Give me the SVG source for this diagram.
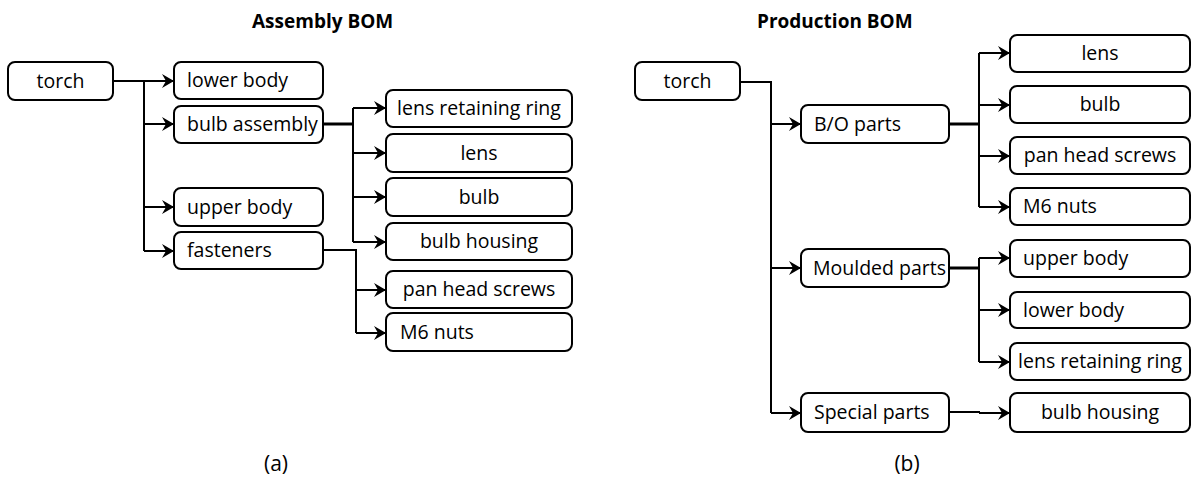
<svg xmlns="http://www.w3.org/2000/svg" width="1200" height="480" viewBox="0 0 1200 480">
<defs>
<marker id="ah" markerUnits="userSpaceOnUse" markerWidth="12" markerHeight="14" refX="12" refY="7" orient="auto">
<path d="M0,0 L12,7 L0,14 L4,7 z" fill="#000"/>
</marker>
<style>
.box{fill:#fff;stroke:#000;stroke-width:2}
.t{font-family:"Open Sans","Liberation Sans",sans-serif;font-size:19.5px;fill:#000}
.c{text-anchor:middle}
.title{font-family:"Open Sans","Liberation Sans",sans-serif;font-size:19px;font-weight:bold;fill:#000}
.lbl{font-family:"Open Sans","Liberation Sans",sans-serif;font-size:21px;fill:#000;text-anchor:middle}
.ln{fill:none;stroke:#000;stroke-width:2}
.thick{fill:none;stroke:#000;stroke-width:3}
.ar{fill:none;stroke:#000;stroke-width:2;marker-end:url(#ah)}
</style>
</defs>
<rect width="1200" height="480" fill="#fff"/>
<text class="title" x="252" y="28">Assembly BOM</text>
<text class="title" x="757" y="28">Production BOM</text>
<text class="lbl" x="276" y="471">(a)</text>
<text class="lbl" x="907" y="471">(b)</text>

<g id="connectors">
<path class="ln" d="M113,81 H144 V251"/>
<path class="ar" d="M144,81 H174"/>
<path class="ar" d="M144,124 H174"/>
<path class="ar" d="M144,207 H174"/>
<path class="ar" d="M144,251 H174"/>
<path class="thick" d="M323,124 H353"/>
<path class="ln" d="M353,108 V242"/>
<path class="ar" d="M353,108 H386"/>
<path class="ar" d="M353,153 H386"/>
<path class="ar" d="M353,197 H386"/>
<path class="ar" d="M353,242 H386"/>
<path class="ln" d="M323,250 H356 V333"/>
<path class="ar" d="M356,290 H386"/>
<path class="ar" d="M356,333 H386"/>

<path class="ln" d="M740,82 H771 V413"/>
<path class="ar" d="M771,124 H801"/>
<path class="ar" d="M771,268 H801"/>
<path class="ar" d="M771,413 H801"/>
<path class="thick" d="M949,124 H979"/>
<path class="ln" d="M979,53 V207"/>
<path class="ar" d="M979,53 H1010"/>
<path class="ar" d="M979,105 H1010"/>
<path class="ar" d="M979,156 H1010"/>
<path class="ar" d="M979,207 H1010"/>
<path class="thick" d="M949,268 H979"/>
<path class="ln" d="M979,258 V362"/>
<path class="ar" d="M979,258 H1010"/>
<path class="ar" d="M979,310 H1010"/>
<path class="ar" d="M979,362 H1010"/>
<path class="ln" d="M949,412 H979 V413"/>
<path class="ar" d="M979,413 H1010"/>
</g>

<g id="a-torch"><rect class="box" x="8" y="62" width="105" height="38" rx="7"/><text class="t c" x="60.5" y="88">torch</text></g>
<g id="a-lower-body"><rect class="box" x="174" y="62" width="149" height="37" rx="7"/><text class="t" x="187" y="87">lower body</text></g>
<g id="a-bulb-assembly"><rect class="box" x="174" y="106" width="149" height="37" rx="7"/><text class="t" x="187" y="131">bulb assembly</text></g>
<g id="a-upper-body"><rect class="box" x="174" y="188" width="149" height="38" rx="7"/><text class="t" x="187" y="214">upper body</text></g>
<g id="a-fasteners"><rect class="box" x="174" y="232" width="149" height="37" rx="7"/><text class="t" x="187" y="257">fasteners</text></g>
<g id="a-lens-retaining-ring"><rect class="box" x="386" y="90" width="186" height="37" rx="7"/><text class="t c" x="479" y="115">lens retaining ring</text></g>
<g id="a-lens"><rect class="box" x="386" y="134" width="186" height="38" rx="7"/><text class="t c" x="479" y="160">lens</text></g>
<g id="a-bulb"><rect class="box" x="386" y="178" width="186" height="38" rx="7"/><text class="t c" x="479" y="204">bulb</text></g>
<g id="a-bulb-housing"><rect class="box" x="386" y="223" width="186" height="37" rx="7"/><text class="t c" x="479" y="248">bulb housing</text></g>
<g id="a-pan-head-screws"><rect class="box" x="386" y="271" width="186" height="37" rx="7"/><text class="t c" x="479" y="296">pan head screws</text></g>
<g id="a-m6-nuts"><rect class="box" x="386" y="313" width="186" height="38" rx="7"/><text class="t" x="400" y="339">M6 nuts</text></g>

<g id="b-torch"><rect class="box" x="635" y="62" width="105" height="38" rx="7"/><text class="t c" x="687.5" y="88">torch</text></g>
<g id="b-bo-parts"><rect class="box" x="801" y="105" width="148" height="38" rx="7"/><text class="t" x="814" y="131">B/O parts</text></g>
<g id="b-moulded-parts"><rect class="box" x="801" y="249" width="148" height="38" rx="7"/><text class="t" x="813" y="275">Moulded parts</text></g>
<g id="b-special-parts"><rect class="box" x="801" y="393" width="148" height="39" rx="7"/><text class="t" x="814" y="419">Special parts</text></g>
<g id="b-lens"><rect class="box" x="1010" y="35" width="180" height="37" rx="7"/><text class="t c" x="1100" y="60">lens</text></g>
<g id="b-bulb"><rect class="box" x="1010" y="86" width="180" height="37" rx="7"/><text class="t c" x="1100" y="111">bulb</text></g>
<g id="b-pan-head-screws"><rect class="box" x="1010" y="137" width="180" height="37" rx="7"/><text class="t c" x="1100" y="162">pan head screws</text></g>
<g id="b-m6-nuts"><rect class="box" x="1010" y="188" width="180" height="37" rx="7"/><text class="t" x="1023" y="213">M6 nuts</text></g>
<g id="b-upper-body"><rect class="box" x="1010" y="240" width="180" height="37" rx="7"/><text class="t" x="1023" y="265">upper body</text></g>
<g id="b-lower-body"><rect class="box" x="1010" y="292" width="180" height="36" rx="7"/><text class="t" x="1023" y="317">lower body</text></g>
<g id="b-lens-retaining-ring"><rect class="box" x="1010" y="343" width="180" height="37" rx="7"/><text class="t c" x="1100" y="368">lens retaining ring</text></g>
<g id="b-bulb-housing"><rect class="box" x="1010" y="393" width="180" height="39" rx="7"/><text class="t c" x="1100" y="419">bulb housing</text></g>
</svg>
